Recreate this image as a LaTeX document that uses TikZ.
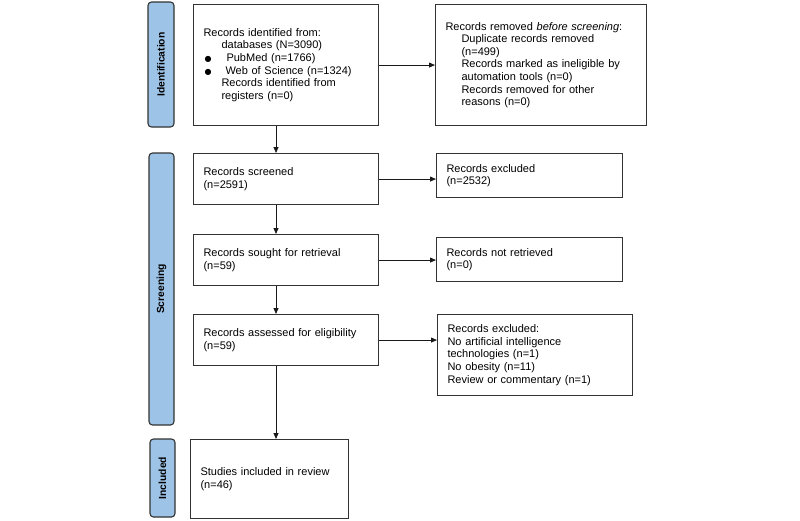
\documentclass[tikz,border=0pt]{standalone}
\usepackage{fontspec}
\setmainfont{Liberation Sans}
\newfontfamily\symfont{DejaVu Sans}
\usetikzlibrary{arrows.meta}
\definecolor{barblue}{HTML}{9DC3E6}
\definecolor{edgegray}{HTML}{333333}
\begin{document}
\begin{tikzpicture}[x=1pt,y=-1pt,
  box/.style={draw=edgegray, line width=1.1pt, fill=white, inner xsep=10pt, inner ysep=2pt,
    align=left, anchor=north west, font=\fontsize{11}{12.6}\selectfont},
  bar/.style={draw=edgegray, line width=1.1pt, fill=barblue, rounded corners=3.5pt},
  barlabel/.style={rotate=90, font=\fontsize{10.3}{11}\selectfont\bfseries},
  arr/.style={draw=black!90, line width=0.8pt, -{Triangle[length=6pt,width=5pt]}}]
\useasboundingbox (0,0) rectangle (800,520);

% side bars
\draw[bar] (148,2) rectangle (174,127);
\node[barlabel] (lid) at (161,64.5) {Identification};
\draw[bar] (149,153) rectangle (174,425);
\node[barlabel] (lscr) at (161.5,289) {Screening};
\draw[bar] (150,439) rectangle (175,517);
\node[barlabel] (linc) at (162.5,478) {Included};

% boxes
\node[box, text width=165pt, minimum height=121pt] (id) at (193,4)
 {Records identified from:\\
  \hspace*{18pt}databases (N=3090)\\
  \hspace*{1pt}{\symfont\fontsize{8}{12.6}\selectfont ●}\hspace*{15pt}PubMed (n=1766)\\
  \hspace*{1pt}{\symfont\fontsize{8}{12.6}\selectfont ●}\hspace*{14pt}Web of Science (n=1324)\\
  \hspace*{18pt}Records identified from\\
  \hspace*{18pt}registers (n=0)};
\node[box, text width=191pt, minimum height=121pt] (rem) at (435,4)
 {Records removed \emph{before screening}:\\
  \hspace*{16pt}Duplicate records removed\\
  \hspace*{16pt}(n=499)\\
  \hspace*{16pt}Records marked as ineligible by\\
  \hspace*{16pt}automation tools (n=0)\\
  \hspace*{16pt}Records removed for other\\
  \hspace*{16pt}reasons (n=0)};
\node[box, text width=165pt, minimum height=51pt] (scr) at (193,153)
 {Records screened\\(n=2591)};
\node[box, text width=166pt, minimum height=44pt] (exc) at (436,153)
 {Records excluded\\(n=2532)};
\node[box, text width=165pt, minimum height=51pt] (sou) at (193,234)
 {Records sought for retrieval\\(n=59)};
\node[box, text width=166pt, minimum height=44pt] (nr) at (436,237)
 {Records not retrieved\\(n=0)};
\node[box, text width=165pt, minimum height=51pt] (ass) at (193,314)
 {Records assessed for eligibility\\(n=59)};
\node[box, text width=175pt, minimum height=81pt] (exc2) at (437,314)
 {Records excluded:\\
  No artificial intelligence\\
  technologies (n=1)\\
  No obesity (n=11)\\
  Review or commentary (n=1)};
\node[box, text width=138pt, minimum height=79pt] (inc) at (190,439)
 {Studies included in review\\(n=46)};

% connectors
\coordinate (col) at (276,0);
\draw[arr] (id.south -| col) -- (scr.north -| col);
\draw[arr] (scr.south -| col) -- (sou.north -| col);
\draw[arr] (sou.south -| col) -- (ass.north -| col);
\draw[arr] (ass.south -| col) -- (inc.north -| col);
\draw[arr] (id.east) -- (id.east -| rem.west);
\draw[arr] (scr.east) -- (scr.east -| exc.west);
\draw[arr] (sou.east) -- (sou.east -| nr.west);
\draw[arr] (ass.east) -- (ass.east -| exc2.west);
\end{tikzpicture}
\end{document}
